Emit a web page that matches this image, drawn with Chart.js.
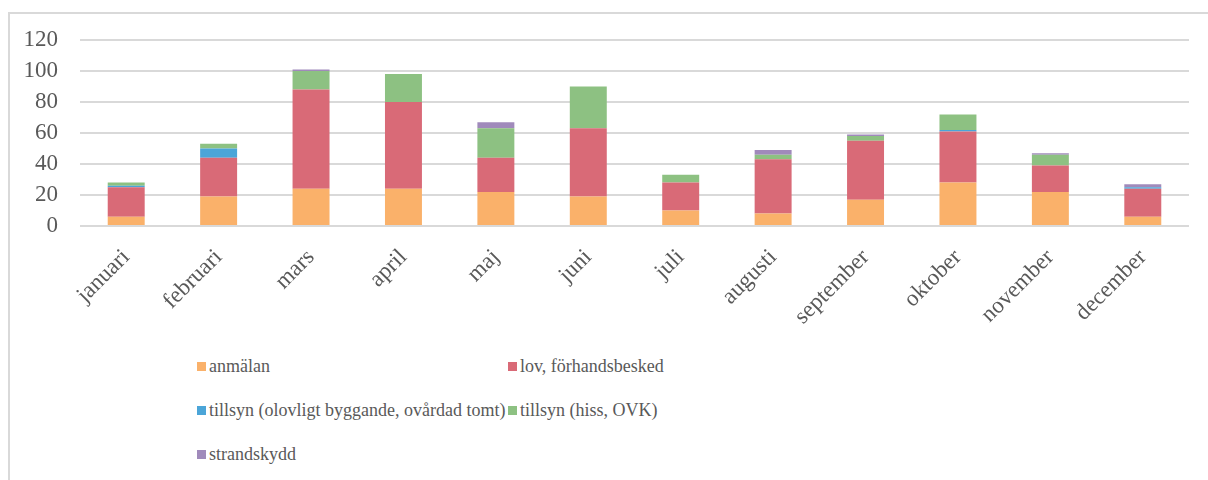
<!DOCTYPE html>
<html>
<head>
<meta charset="utf-8">
<script src="https://cdn.jsdelivr.net/npm/chart.js@4.4.1/dist/chart.umd.min.js"></script>
<style>
    body { margin: 0; background: #fff; width: 1208px; height: 480px; overflow: hidden; }
    #frame {
        position: absolute; left: 8px; top: 12px; width: 1210px; height: 480px;
        border: 2px solid #d9d9d9; box-sizing: border-box;
    }
    #wrap { position: absolute; left: 10px; top: 14px; width: 1190px; height: 330px; }
    #legend {
        position: absolute; left: 197px; top: 354px;
        display: grid; grid-template-columns: 311px 330px; row-gap: 20px;
        font-family: "Liberation Serif", "Times New Roman", serif; font-size: 18px; color: #595959;
    }
    .item { display: flex; align-items: center; height: 24px; white-space: nowrap; }
    .box { width: 9px; height: 9px; margin-right: 3px; flex: none; }
</style>
</head>
<body>
<div id="frame"></div>
<div id="wrap"><canvas id="chart"></canvas></div>
<div id="legend"></div>
<script>
// Månader
const months = ['januari', 'februari', 'mars', 'april', 'maj', 'juni', 'juli', 'augusti', 'september', 'oktober', 'november', 'december'];

// Serier
const anmalan = [6, 19, 24, 24, 22, 19, 10, 8, 17, 28, 22, 6];
const lov = [19, 25, 64, 56, 22, 44, 18, 35, 38, 33, 17, 18];
const tillsynOlovligt = [1, 6, 0, 0, 0, 0, 0, 0, 0, 1, 0, 1];
const tillsynHiss = [2, 3, 12, 18, 19, 27, 5, 3, 3, 10, 7, 0];
const strandskydd = [0, 0, 1, 0, 4, 0, 0, 3, 1, 0, 1, 2];

const seriesNames = ['anmälan', 'lov, förhandsbesked', 'tillsyn (olovligt byggande, ovårdad tomt)', 'tillsyn (hiss, OVK)', 'strandskydd'];
const seriesColors = ['#fab16a', '#d96a77', '#4ba5d8', '#8dc182', '#a08abb'];
const seriesData = [anmalan, lov, tillsynOlovligt, tillsynHiss, strandskydd];

const yTicks = [0, 20, 40, 60, 80, 100, 120];

const font = { family: '"Liberation Serif", "Times New Roman", serif', size: 23 };

const ctx = document.getElementById('chart').getContext('2d');
const chart = new Chart(ctx, {
    type: 'bar',
    data: {
        labels: months,
        datasets: seriesData.map((d, i) => ({
            label: seriesNames[i],
            data: d,
            backgroundColor: seriesColors[i],
            borderWidth: 0,
            categoryPercentage: 1,
            barPercentage: 0.4
        }))
    },
    options: {
        responsive: true,
        maintainAspectRatio: false,
        animation: false,
        layout: { padding: { top: 26, right: 11, left: 0, bottom: 0 } },
        plugins: {
            legend: { display: false },
            tooltip: { enabled: false }
        },
        scales: {
            x: {
                stacked: true,
                grid: { display: false },
                border: { display: false },
                ticks: {
                    color: '#595959', font: font,
                    minRotation: 45, maxRotation: 45, padding: 10
                },
                afterFit: s => { s.height = 118; }
            },
            y: {
                stacked: true,
                min: yTicks[0],
                max: yTicks[yTicks.length - 1],
                grid: { color: '#d9d9d9', lineWidth: 2, drawTicks: false },
                border: { display: false },
                ticks: { color: '#595959', font: font, stepSize: 20, padding: 22 },
                // fast bredd, och ingen extra luft ovanför/under axeln
                afterFit: s => { s.width = 70; s.paddingTop = 0; s.paddingBottom = 0; }
            }
        }
    }
});

// Förklaring
const legend = document.getElementById('legend');
chart.data.datasets.forEach(ds => {
    const item = document.createElement('div');
    item.className = 'item';
    const box = document.createElement('span');
    box.className = 'box';
    box.style.background = ds.backgroundColor;
    const txt = document.createElement('span');
    txt.textContent = ds.label;
    item.appendChild(box);
    item.appendChild(txt);
    legend.appendChild(item);
});
</script>
</body>
</html>
